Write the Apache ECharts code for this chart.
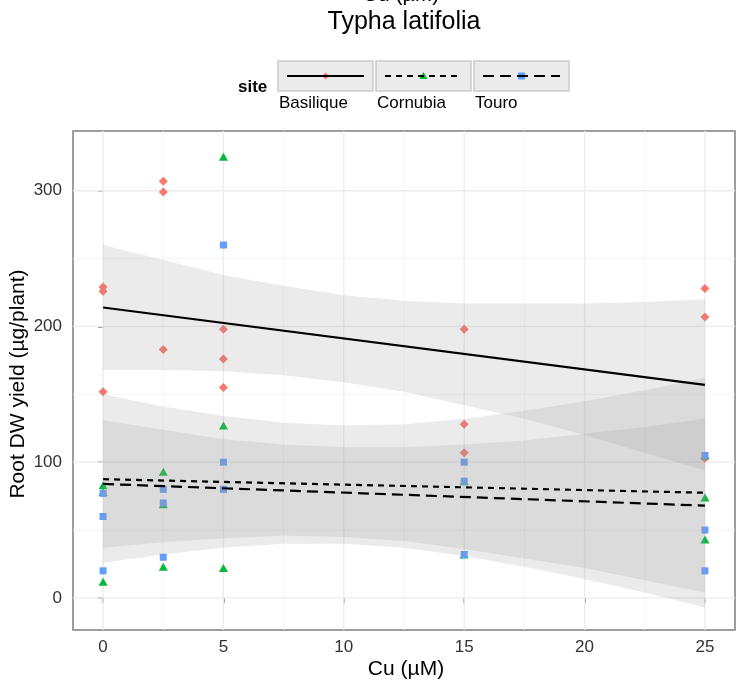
<!DOCTYPE html>
<html><head><meta charset="utf-8">
<script src="https://cdn.jsdelivr.net/npm/echarts@6/dist/echarts.min.js"></script>
<style>html,body{margin:0;padding:0;background:#fff}#c{width:741px;height:686px}</style>
</head><body><div id="c"></div>
<script>
// ---- data ----
const sites = ['Basilique', 'Cornubia', 'Touro'];
const siteColors = ['#F8766D', '#00BA38', '#619CFF'];
const siteSymbols = ['diamond', 'triangle', 'rect'];
const siteDash = ['solid', [6, 5], [11, 6]];

const basiliqueX = [0, 0, 0, 2.5, 2.5, 2.5, 5, 5, 5, 15, 15, 15, 25, 25, 25];
const basiliqueY = [229, 226, 152, 307, 299, 183, 198, 176, 155, 198, 128, 107, 228, 207, 103];
const cornubiaX = [0, 0, 0, 2.5, 2.5, 2.5, 5, 5, 5, 15, 15, 25, 25, 25];
const cornubiaY = [83, 78, 12, 93, 69, 23, 325, 127, 22, 86, 32, 105, 74, 43];
const touroX = [0, 0, 0, 2.5, 2.5, 2.5, 5, 5, 5, 15, 15, 15, 25, 25, 25];
const touroY = [77, 60, 20, 80, 70, 30, 260, 100, 80, 100, 86, 32, 105, 50, 20];

// fitted lines (endpoints at Cu = 0 and 25)
const fitEndsX = [0, 25];
const basiliqueFit = [214, 157];
const cornubiaFit = [87.5, 77.5];
const touroFit = [84, 68];

// confidence bands read along Cu
const bandX = [0, 2.5, 5, 7.5, 10, 12.5, 15, 17.5, 20, 22.5, 25];
const basiliqueLo = [168, 168, 167, 164, 159, 152, 142, 132, 120, 107, 94];
const basiliqueHi = [260, 249, 238, 230, 223, 219, 217, 217, 217, 218, 220];
const cornubiaLo = [26, 32, 37, 40, 40, 37, 31, 23, 14, 4, -7];
const cornubiaHi = [150, 141, 134, 129, 127, 128, 132, 138, 145, 153, 162];
const touroLo = [37, 41, 44, 46, 45, 42, 36, 29, 22, 13, 4];
const touroHi = [131, 124, 117, 113, 111, 111, 113, 116, 121, 126, 132];

// axes
const xTicks = [0, 5, 10, 15, 20, 25];
const xMinor = [2.5, 7.5, 12.5, 17.5, 22.5];
const yTicks = [0, 100, 200, 300];
const yMinor = [50, 150, 250];
const X_MIN = -1.25, X_MAX = 26.25, Y_MIN = -23.6, Y_MAX = 344;

const titleText = 'Typha latifolia';
const xTitle = 'Cu (µM)';
const yTitle = 'Root DW yield (µg/plant)';
const legendTitle = 'site';

// ---- chart ----
const FONT = '"Liberation Sans", Arial, sans-serif';
const chart = echarts.init(document.getElementById('c'), null, {renderer: 'canvas'});

const scatterX = [basiliqueX, cornubiaX, touroX];
const scatterY = [basiliqueY, cornubiaY, touroY];
const fits = [basiliqueFit, cornubiaFit, touroFit];
const bands = [[basiliqueLo, basiliqueHi], [cornubiaLo, cornubiaHi], [touroLo, touroHi]];
const symSizes = [[9, 9], [9, 8], [7, 7]];

const series = [];

// grid lines
const gridData = [];
xMinor.forEach(v => gridData.push([v, 0, 1]));
yMinor.forEach(v => gridData.push([v, 1, 1]));
xTicks.forEach(v => gridData.push([v, 0, 0]));
yTicks.forEach(v => gridData.push([v, 1, 0]));
series.push({
  type: 'custom', silent: true, z: 1, data: gridData,
  encode: {x: 0, y: 1},
  renderItem(params, api) {
    const v = api.value(0), o = api.value(1), m = api.value(2);
    let p1, p2;
    if (o === 0) { p1 = api.coord([v, Y_MIN]); p2 = api.coord([v, Y_MAX]); }
    else { p1 = api.coord([X_MIN, v]); p2 = api.coord([X_MAX, v]); }
    return {type: 'line', shape: {x1: p1[0], y1: p1[1], x2: p2[0], y2: p2[1]},
      style: {stroke: m ? '#f5f5f5' : '#ebebeb', lineWidth: m ? 1 : 1.3}};
  }
});

sites.forEach((s, i) => {
  series.push({
    type: 'scatter', name: s, z: 2,
    symbol: siteSymbols[i], symbolSize: symSizes[i],
    itemStyle: {color: siteColors[i], opacity: 1},
    data: scatterX[i].map((x, k) => [x, scatterY[i][k]])
  });
});

sites.forEach((s, i) => {
  const lo = bands[i][0], hi = bands[i][1];
  series.push({
    type: 'custom', name: s + ' band', silent: true, z: 3,
    data: [[bandX[0], lo[0]]],
    renderItem(params, api) {
      const pts = [];
      for (let k = 0; k < bandX.length; k++) pts.push(api.coord([bandX[k], hi[k]]));
      for (let k = bandX.length - 1; k >= 0; k--) pts.push(api.coord([bandX[k], lo[k]]));
      return {type: 'polygon', shape: {points: pts}, style: {fill: 'rgba(153,153,153,0.2)'}};
    }
  });
});

sites.forEach((s, i) => {
  series.push({
    type: 'line', name: s + ' fit', z: 4, silent: true,
    showSymbol: false, symbol: 'none',
    lineStyle: {color: '#000', width: 2.2, type: siteDash[i]},
    data: fitEndsX.map((x, k) => [x, fits[i][k]])
  });
});

// legend + texts as graphics
const graphic = [];
graphic.push({type: 'text', x: 404, y: 22, style: {text: titleText, font: '25px ' + FONT, fill: '#000', align: 'center', verticalAlign: 'middle'}});
graphic.push({type: 'text', x: 401, y: -5, style: {text: xTitle, font: '21px ' + FONT, fill: '#000', align: 'center', verticalAlign: 'middle'}});
graphic.push({type: 'text', x: 406, y: 669, style: {text: xTitle, font: '21px ' + FONT, fill: '#000', align: 'center', verticalAlign: 'middle'}});
graphic.push({type: 'text', x: 18, y: 384, rotation: Math.PI / 2, style: {text: yTitle, font: '21px ' + FONT, fill: '#000', align: 'center', verticalAlign: 'middle'}});
graphic.push({type: 'text', x: 238, y: 87, style: {text: legendTitle, font: 'bold 17px ' + FONT, fill: '#000', align: 'left', verticalAlign: 'middle'}});
const keyX0 = 278, keyStep = 98, keyW = 95, keyH = 30, keyY = 61;
sites.forEach((s, i) => {
  const x = keyX0 + i * keyStep, cx = x + keyW / 2, cy = keyY + keyH / 2;
  graphic.push({type: 'rect', shape: {x: x, y: keyY, width: keyW, height: keyH}, style: {fill: '#ebebeb', stroke: '#cccccc', lineWidth: 1.5}});
  if (siteSymbols[i] === 'diamond') {
    graphic.push({type: 'polygon', shape: {points: [[cx, cy - 3.5], [cx + 3.5, cy], [cx, cy + 3.5], [cx - 3.5, cy]]}, style: {fill: siteColors[i]}});
  } else if (siteSymbols[i] === 'triangle') {
    graphic.push({type: 'polygon', shape: {points: [[cx, cy - 4], [cx + 4, cy + 3], [cx - 4, cy + 3]]}, style: {fill: siteColors[i]}});
  } else {
    graphic.push({type: 'rect', shape: {x: cx - 3.5, y: cy - 3.5, width: 7, height: 7}, style: {fill: siteColors[i]}});
  }
  graphic.push({type: 'line', shape: {x1: x + 9, y1: cy, x2: x + keyW - 9, y2: cy},
    style: {stroke: '#000', lineWidth: 2.2, lineDash: siteDash[i] === 'solid' ? null : siteDash[i]}});
  graphic.push({type: 'text', x: x + 1, y: 103, style: {text: s, font: '17px ' + FONT, fill: '#000', align: 'left', verticalAlign: 'middle'}});
});

chart.setOption({
  animation: false,
  backgroundColor: '#ffffff',
  textStyle: {fontFamily: FONT},
  grid: {left: 73, right: 6, top: 131, bottom: 56, show: true, borderColor: '#7f7f7f', borderWidth: 1.5, backgroundColor: '#fff'},
  xAxis: {
    type: 'value', min: X_MIN, max: X_MAX, splitNumber: 5,
    splitLine: {show: false}, axisLine: {show: false},
    axisTick: {show: true, length: 5, customValues: xTicks, lineStyle: {color: '#7f7f7f', width: 1.5}},
    axisLabel: {customValues: xTicks, margin: 9, color: '#333', fontSize: 17, fontFamily: FONT}
  },
  yAxis: {
    type: 'value', min: Y_MIN, max: Y_MAX, splitNumber: 4,
    splitLine: {show: false}, axisLine: {show: false},
    axisTick: {show: true, length: 5, customValues: yTicks, lineStyle: {color: '#7f7f7f', width: 1.5}},
    axisLabel: {customValues: yTicks, margin: 11, color: '#333', fontSize: 17, fontFamily: FONT}
  },
  graphic: graphic,
  series: series
});
</script></body></html>
